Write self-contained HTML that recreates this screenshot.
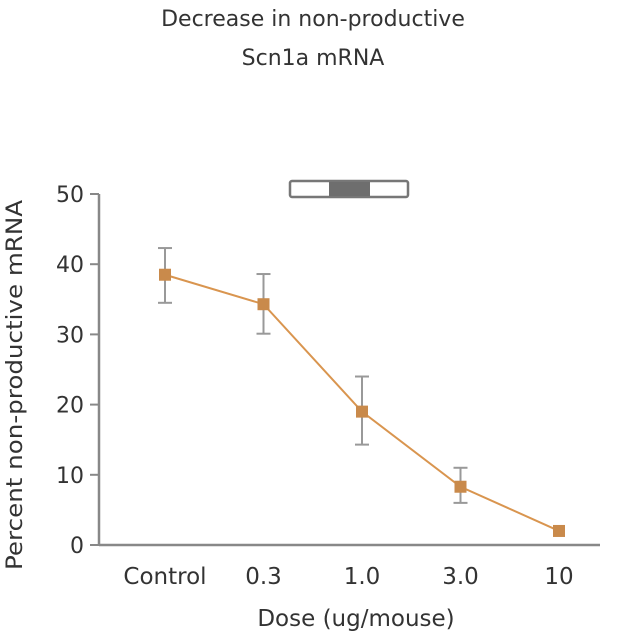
<!DOCTYPE html>
<html><head><meta charset="utf-8"><style>
body{margin:0;background:#fff;}
svg{display:block;font-family:"DejaVu Sans","Liberation Sans",sans-serif;}
</style></head><body>
<svg width="628" height="641" viewBox="0 0 628 641">
<text x="313" y="26" text-anchor="middle" font-size="22" fill="#333">Decrease in non-productive</text>
<text x="313" y="65" text-anchor="middle" font-size="22" fill="#333">Scn1a mRNA</text>
<g>
<rect x="290" y="181" width="118" height="16" fill="#fff" stroke="#777" stroke-width="2.5" rx="2"/>
<rect x="329" y="182" width="41" height="14" fill="#6e6e6e"/>
</g>
<g id="axes"></g>
<g id="plot"></g>
<text x="356" y="626" text-anchor="middle" font-size="23" fill="#333">Dose (ug/mouse)</text>
<text transform="translate(22,385) rotate(-90)" text-anchor="middle" font-size="22" fill="#333" textLength="370" lengthAdjust="spacingAndGlyphs">Percent non-productive mRNA</text>
</svg>
<script>
const categories=["Control","0.3","1.0","3.0","10"];
const values=[38.5,34.3,19,8.3,2];
const errHigh=[42.3,38.6,24,11,2];
const errLow=[34.5,30.1,14.3,6,2];
const yTicks=[0,10,20,30,40,50];
const NS="http://www.w3.org/2000/svg";
function y(v){return 545-v*7.02;}
function x(i){return 165+i*98.5;}
function mk(t,a,p){const e=document.createElementNS(NS,t);for(const k in a)e.setAttribute(k,a[k]);p.appendChild(e);return e;}
const ax=document.getElementById('axes'),pl=document.getElementById('plot');
const ya=mk('line',{x1:99,y1:y(50),x2:99,y2:545,stroke:'#888','stroke-width':2.5},ax);


const xa=mk('line',{x1:99,y1:545,x2:600,y2:545,stroke:'#888','stroke-width':2.5},ax);


yTicks.forEach(t=>{
 mk('line',{x1:90,y1:y(t),x2:99,y2:y(t),stroke:'#888','stroke-width':2},ax);
 const tx=mk('text',{x:84,y:y(t)+8,'text-anchor':'end','font-size':22,fill:'#333'},ax);
 tx.textContent=t;
 
 
});
categories.forEach((c,i)=>{
 const tx=mk('text',{x:x(i),y:584,'text-anchor':'middle','font-size':23,fill:'#333'},ax);
 tx.textContent=c;
 
 
});
const pts=values.map((v,i)=>x(i)+','+y(v)).join(' ');
const ln=mk('polyline',{points:pts,fill:'none',stroke:'#d9954f','stroke-width':2},pl);


values.forEach((v,i)=>{
 if(errHigh[i]!==errLow[i]){
  const g=mk('g',{stroke:'#999','stroke-width':2},pl);
  
  
  mk('line',{x1:x(i),y1:y(errHigh[i]),x2:x(i),y2:y(errLow[i])},g);
  mk('line',{x1:x(i)-7,y1:y(errHigh[i]),x2:x(i)+7,y2:y(errHigh[i])},g);
  mk('line',{x1:x(i)-7,y1:y(errLow[i]),x2:x(i)+7,y2:y(errLow[i])},g);
 }
 const r=mk('rect',{x:x(i)-6,y:y(v)-6,width:12,height:12,fill:'#c98a4b'},pl);
 
 
});
</script>
</body></html>
